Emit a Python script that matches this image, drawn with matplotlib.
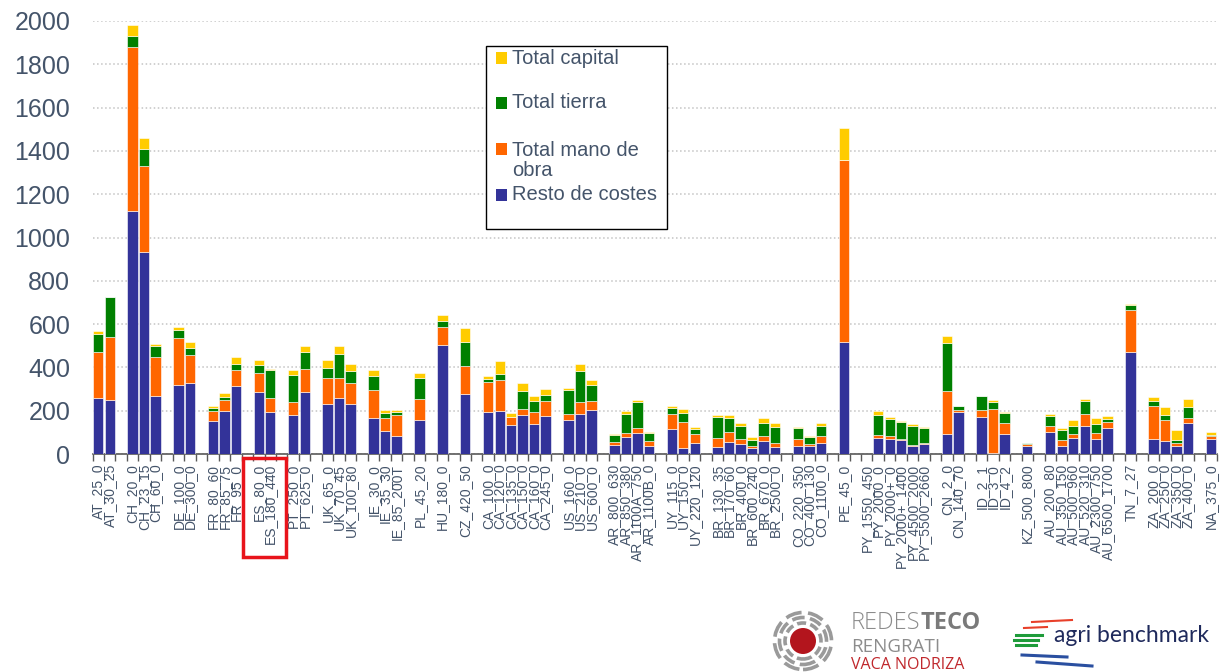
import numpy as np
import matplotlib
import matplotlib.pyplot as plt
from matplotlib.patches import Rectangle, Circle

matplotlib.use("Agg")
plt.rcParams["font.family"] = ["Liberation Sans", "DejaVu Sans"]

# farm labels, in chart order (gaps come from the country prefix changing)
labels = [
    "AT_25_0", "AT_30_25",
    "CH_20_0", "CH_23_15", "CH_60_0",
    "DE_100_0", "DE_300_0",
    "FR_80_60", "FR_85_75", "FR_95_0",
    "ES_80_0", "ES_180_440",
    "PT_250_0", "PT_625_0",
    "UK_65_0", "UK_70_45", "UK_100_80",
    "IE_30_0", "IE_35_30", "IE_85_200T",
    "PL_45_20",
    "HU_180_0",
    "CZ_420_50",
    "CA_100_0", "CA_120_0", "CA_135_0", "CA_150_0", "CA_160_0", "CA_245_0",
    "US_160_0", "US_210_0", "US_600_0",
    "AR_800_630", "AR_850_380", "AR_1100A_750", "AR_1100B_0",
    "UY_115_0", "UY_150_0", "UY_220_120",
    "BR_130_35", "BR_170_60", "BR_400_0", "BR_600_240", "BR_670_0", "BR_2500_0",
    "CO_220_350", "CO_400_130", "CO_1100_0",
    "PE_45_0",
    "PY_1550_450", "PY_2000_0", "PY_2000+_0", "PY_2000+_1400", "PY_4500_2000", "PY_5500_2660",
    "CN_2_0", "CN_140_70",
    "ID_2_1", "ID_3_0", "ID_4_2",
    "KZ_500_800",
    "AU_200_80", "AU_350_150", "AU_500_960", "AU_520_310", "AU_2300_750", "AU_6500_1700",
    "TN_7_27",
    "ZA_200_0", "ZA_250_0", "ZA_350_0", "ZA_400_0",
    "NA_375_0",
]

resto = [
    257, 248,
    1124, 932, 269,
    321, 329,
    151, 197, 312,
    285, 192,
    181, 285,
    230, 259, 233,
    164, 107, 85,
    157,
    505,
    278,
    195, 198, 133, 179, 140, 174,
    157, 185, 204,
    40, 77, 97, 39,
    117, 26, 49,
    31, 54, 48, 26, 59, 34,
    36, 36, 49,
    517,
    0, 73, 68, 63, 36, 45,
    91, 193,
    171, 6, 91,
    39,
    102, 36, 76, 128, 68, 122,
    469,
    68, 59, 36, 141,
    68,
]

mano_obra = [
    214, 293,
    754, 398, 177,
    216, 129,
    47, 54, 77,
    90, 68,
    60, 109,
    119, 93, 93,
    131, 58, 96,
    95,
    80,
    128,
    137, 146, 38, 28, 56, 70,
    28, 57, 43,
    14, 22, 25, 21,
    70, 124, 42,
    45, 46, 21, 13, 24, 18,
    35, 9, 36,
    843,
    0, 17, 15, 8, 7, 6,
    198, 8,
    34, 204, 53,
    9,
    29, 29, 18, 57, 29, 26,
    196,
    156, 98, 16, 27,
    15,
]

tierra = [
    84, 182,
    52, 80, 54,
    38, 30,
    14, 14, 25,
    34, 126,
    122, 75,
    50, 110, 57,
    66, 25, 15,
    98,
    29,
    110,
    15, 27, 2, 85, 49, 28,
    110, 142, 73,
    34, 86, 117, 36,
    25, 38, 23,
    95, 65, 59, 27, 62, 72,
    48, 32, 45,
    0,
    0, 92, 79, 76, 85, 68,
    222, 20,
    62, 32, 46,
    1,
    45, 46, 34, 59, 40, 13,
    25,
    23, 21, 14, 51,
    3,
]

capital = [
    14, 4,
    51, 51, 8,
    11, 30,
    11, 18, 34,
    25, 8,
    26, 31,
    36, 37, 32,
    27, 12, 9,
    24,
    28,
    64,
    13, 58, 17, 34, 22, 28,
    8, 30, 21,
    5, 13, 11, 6,
    12, 22, 10,
    8, 17, 13, 11, 19, 17,
    8, 8, 11,
    146,
    0, 16, 11, 7, 11, 8,
    32, 3,
    3, 8, 6,
    3,
    9, 9, 31, 12, 28, 15,
    4,
    17, 41, 44, 36,
    17,
]

series_names = ["Resto de costes", "Total mano de\nobra", "Total tierra", "Total capital"]
series_colors = ["#333399", "#FF6600", "#008000", "#FFCC00"]
text_color = "#44546A"

# x positions: one empty slot between countries
positions = []
pos = -1
prev = None
for lab in labels:
    country = lab.split("_")[0]
    pos += 2 if (prev is not None and country != prev) else 1
    positions.append(pos)
    prev = country
positions = np.array(positions)

W, H = 1219, 672
fig = plt.figure(figsize=(W / 100, H / 100), dpi=100)
ax = fig.add_axes([92.5 / W, 1 - 454 / H, (1216.6 - 92.5) / W, (454 - 21) / H])


def px(x, y):
    return x / W, 1 - y / H


bottom = np.zeros(len(labels))
for vals, name, col in zip([resto, mano_obra, tierra, capital], series_names, series_colors):
    vals = np.array(vals, dtype=float)
    ax.bar(positions, vals, width=0.9, bottom=bottom, color=col,
           edgecolor="#ffffff", linewidth=0.4, label=name, zorder=3)
    bottom += vals

ax.set_xlim(-0.5, positions[-1] + 0.5)
ax.set_ylim(0, 2000)
ax.set_yticks(np.arange(0, 2001, 200))
ax.yaxis.grid(True, linestyle=":", linewidth=1.1, color="#C4C4C4", zorder=0)
ax.set_axisbelow(True)

ax.set_xticks(positions)
ax.set_xticklabels(labels, rotation=90, fontsize=10, color=text_color)
ax.set_xticks(np.arange(-0.5, positions[-1] + 1, 1), minor=True)
ax.tick_params(axis="x", which="major", length=0, pad=7)
ax.tick_params(axis="x", which="minor", length=5, width=1, color="#595959", direction="out")
ax.tick_params(axis="y", length=0, pad=16, labelsize=18, labelcolor=text_color)

for side in ["top", "right", "left"]:
    ax.spines[side].set_visible(False)
ax.spines["bottom"].set_color("#595959")
ax.spines["bottom"].set_linewidth(1.2)

# legend box drawn by hand to match the original spacing
x0, y0 = px(486, 229)
x1, y1 = px(667, 46)
fig.patches.append(Rectangle((x0, y0), x1 - x0, y1 - y0, transform=fig.transFigure,
                             facecolor="white", edgecolor="black", linewidth=1, zorder=5))
legend_rows = [(58, 3, None), (103, 2, None), (149, 1, 160.5), (195, 0, None)]
for ys, idx, ytxt in legend_rows:
    sx, sy = px(496, ys + 5.5)
    fig.patches.append(Rectangle((sx, sy), 11 / W, 11 / H, transform=fig.transFigure,
                                 facecolor=series_colors[idx], edgecolor="none", zorder=6))
    tx, ty = px(512, ytxt if ytxt else ys)
    fig.text(tx, ty, series_names[idx], fontsize=14.5, color=text_color,
             va="center", ha="left", linespacing=1.1, zorder=7)

# red frame around the ES labels
rx, ry = px(243, 557)
fig.patches.append(Rectangle((rx, ry), 43 / W, 99 / H, transform=fig.transFigure,
                             fill=False, edgecolor="#E8141B", linewidth=2.5, zorder=8))

# logos (approximation)
logo = fig.add_axes([771 / W, 1 - 673 / H, 64 / W, 64 / H])
logo.set_xlim(-32, 32)
logo.set_ylim(-32, 32)
logo.axis("off")
for r, dash in [(18, (2.5, 1.2)), (23.5, (3.5, 1.5)), (28.5, (4.5, 1.8))]:
    logo.add_patch(Circle((0, 0), r, fill=False, edgecolor="#9A9A9A", linewidth=2.6,
                          linestyle=(0, dash)))
logo.add_patch(Circle((0, 0), 13, facecolor="#B3151D", edgecolor="none"))

logo_font = ["Open Sans", "DejaVu Sans"]
redes = fig.text(*px(851, 623), "REDES", fontsize=17, color="#8C8C8C", va="center",
                 ha="left", family=logo_font, fontweight="light")
fig.canvas.draw()
ext = redes.get_window_extent()
fig.text(ext.x1 / W, 1 - 623 / H, "TECO", fontsize=17, color="#7A7A7A", va="center",
         ha="left", family=logo_font, fontweight="bold")
fig.text(*px(851, 647), "RENGRATI", fontsize=13.5, color="#8C8C8C", va="center", ha="left",
         family=logo_font)
fig.text(*px(851, 665), "VACA NODRIZA", fontsize=11.5, color="#C0282D", va="center", ha="left",
         family=logo_font)

ab = fig.add_axes([1012 / W, 1 - 672 / H, 85 / W, 56 / H])
ab.set_xlim(0, 85)
ab.set_ylim(0, 56)
ab.axis("off")
ab.plot([20, 60], [50, 52], color="#E8402A", linewidth=1.5)
ab.plot([12, 35], [44, 45], color="#E8402A", linewidth=1.5)
for yy, xa, xb in [(37, 4, 30), (32, 2, 26), (27, 4, 24)]:
    ab.plot([xa, xb], [yy, yy], color="#1E9B3A", linewidth=2.2)
ab.plot([10, 55], [17, 15], color="#2A4FA0", linewidth=2.2)
ab.plot([25, 80], [10, 6], color="#2A4FA0", linewidth=2.2)

fig.text(*px(1054, 636), "agri benchmark", fontsize=16.5, color="#1F2A5C", va="center",
         ha="left", family=["Lato", "DejaVu Sans"])

plt.savefig("out.png", dpi=100)
plt.close()
